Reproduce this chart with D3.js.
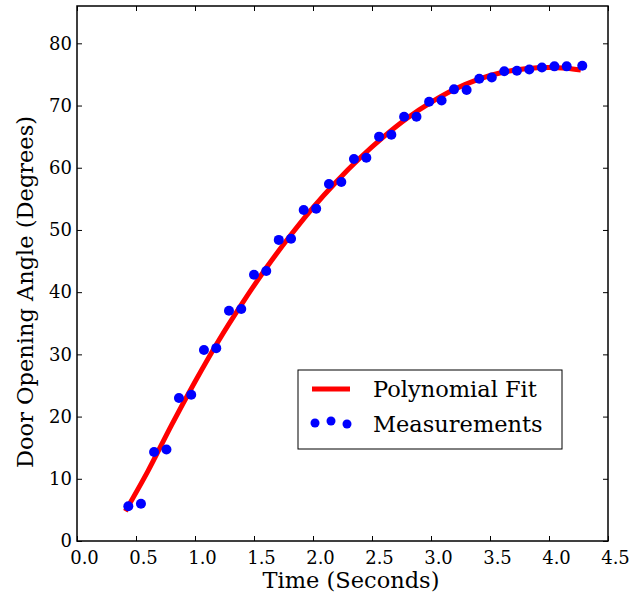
<!DOCTYPE html>
<html>
<head>
<meta charset="utf-8">
<script src="https://cdn.jsdelivr.net/npm/d3@7"></script>
<style>
body { margin: 0; background: #fff; }
text { font-family: "DejaVu Serif", serif; fill: #000; }
</style>
</head>
<body>
<script>
var measTime = [0.435, 0.542, 0.653, 0.758, 0.864, 0.968, 1.076, 1.180, 1.288, 1.392, 1.500, 1.604,
    1.710, 1.814, 1.921, 2.027, 2.135, 2.240, 2.347, 2.452, 2.560, 2.664, 2.772, 2.877, 2.984, 3.090,
    3.195, 3.302, 3.409, 3.515, 3.621, 3.728, 3.833, 3.940, 4.046, 4.150, 4.282];
var measAngle = [5.6, 6.0, 14.3, 14.7, 23.0, 23.5, 30.7, 31.0, 37.0, 37.3, 42.8, 43.4,
    48.4, 48.6, 53.2, 53.4, 57.4, 57.7, 61.4, 61.6, 65.0, 65.3, 68.2, 68.2, 70.6, 70.8,
    72.6, 72.5, 74.3, 74.5, 75.5, 75.6, 75.8, 76.1, 76.3, 76.3, 76.4];
// polynomial fit curve
var fitTime = [0.41, 0.6, 0.8, 1.0, 1.2, 1.4, 1.6, 1.8, 2.0, 2.2, 2.4, 2.6, 2.8, 3.0, 3.2, 3.4, 3.6, 3.8, 4.0, 4.15, 4.27];
var fitAngle = [4.8, 11.2, 18.6, 25.6, 32.2, 38.2, 43.8, 48.9, 53.6, 57.8, 61.6, 65.0, 68.0, 70.5, 72.6, 74.2, 75.3, 75.9, 76.1, 76.0, 75.7];
var xTicks = [0.0, 0.5, 1.0, 1.5, 2.0, 2.5, 3.0, 3.5, 4.0, 4.5];
var yTicks = [0, 10, 20, 30, 40, 50, 60, 70, 80];

var W = 630, H = 599;
var m = { left: 77, top: 6, right: 22, bottom: 58 };
var svg = d3.select("body").append("svg").attr("width", W).attr("height", H);

var x = d3.scaleLinear().domain([0, 4.5]).range([m.left, W - m.right]);
var y = d3.scaleLinear().domain([0, 86]).range([H - m.bottom, m.top]);

// fit line
var line = d3.line().x(function (d, i) { return x(fitTime[i]); }).y(function (d) { return y(d); })
    .curve(d3.curveMonotoneX);
svg.append("path").datum(fitAngle).attr("d", line)
    .attr("fill", "none").attr("stroke", "#ff0000").attr("stroke-width", 5);

// measurement dots
svg.selectAll("circle.meas").data(measAngle).enter().append("circle")
    .attr("class", "meas")
    .attr("cx", function (d, i) { return x(measTime[i]); })
    .attr("cy", function (d) { return y(d); })
    .attr("r", 5).attr("fill", "#0000ff");

// axes with inward ticks on all four sides
function styleAxis(g) {
    g.select(".domain").remove();
    g.selectAll("line").attr("stroke", "#000");
    g.selectAll("text").style("font-size", "18px").style("font-family", "DejaVu Serif");
}
svg.append("g").attr("transform", "translate(0," + y(0) + ")")
    .call(d3.axisBottom(x).tickValues(xTicks).tickFormat(d3.format(".1f")).tickSizeInner(-5).tickPadding(10))
    .call(styleAxis)
    .selectAll("text").attr("dx", 7);
svg.append("g").attr("transform", "translate(0," + y(86) + ")")
    .call(d3.axisTop(x).tickValues(xTicks).tickFormat("").tickSizeInner(-5))
    .call(styleAxis);
svg.append("g").attr("transform", "translate(" + x(0) + ",0)")
    .call(d3.axisLeft(y).tickValues(yTicks).tickSizeInner(-5).tickPadding(5))
    .call(styleAxis);
svg.append("g").attr("transform", "translate(" + x(4.5) + ",0)")
    .call(d3.axisRight(y).tickValues(yTicks).tickFormat("").tickSizeInner(-5))
    .call(styleAxis);

svg.append("rect").attr("x", x(0)).attr("y", y(86))
    .attr("width", x(4.5) - x(0)).attr("height", y(0) - y(86))
    .attr("fill", "none").attr("stroke", "#000").attr("stroke-width", 1.5);

// axis titles
svg.append("text").attr("x", 351).attr("y", 588)
    .attr("text-anchor", "middle").style("font-size", "22.5px").text("Time (Seconds)");
svg.append("text").attr("transform", "translate(33,292) rotate(-90)")
    .attr("text-anchor", "middle").style("font-size", "22.5px").text("Door Opening Angle (Degrees)");

// legend
var lg = svg.append("g").attr("transform", "translate(298,370)");
lg.append("rect").attr("width", 264).attr("height", 79)
    .attr("fill", "#fff").attr("stroke", "#000").attr("stroke-width", 1);
lg.append("line").attr("x1", 14).attr("x2", 52).attr("y1", 19).attr("y2", 19)
    .attr("stroke", "#ff0000").attr("stroke-width", 5);
var legDots = [[17, 53], [33, 51], [49, 54]];
lg.selectAll("circle").data(legDots).enter().append("circle")
    .attr("cx", function (d) { return d[0]; }).attr("cy", function (d) { return d[1]; })
    .attr("r", 4.5).attr("fill", "#0000ff");
lg.append("text").attr("x", 75).attr("y", 27).style("font-size", "22.5px").text("Polynomial Fit");
lg.append("text").attr("x", 75).attr("y", 62).style("font-size", "22.5px").text("Measurements");
</script>
</body>
</html>
